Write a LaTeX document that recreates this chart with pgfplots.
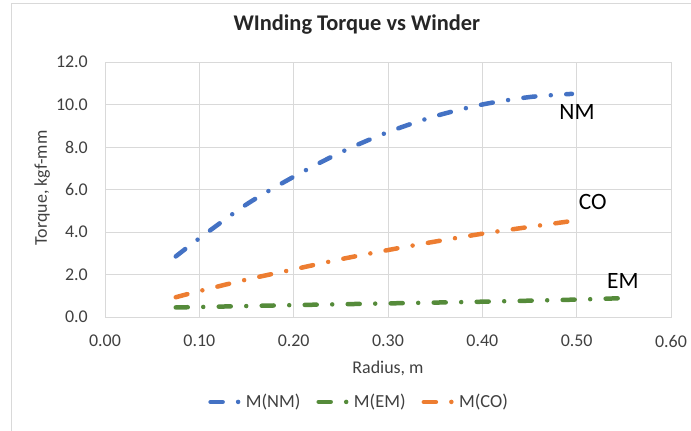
\documentclass[border=0pt]{standalone}
\usepackage{pgfplots}
\pgfplotsset{compat=1.18}
\usepackage{fontspec}
\setmainfont{Carlito}
\definecolor{cNM}{HTML}{4472C4}
\definecolor{cEM}{HTML}{558B3A}
\definecolor{cCO}{HTML}{ED7D31}
\definecolor{gridc}{HTML}{D9D9D9}
\definecolor{txt}{HTML}{404040}
\tikzset{ddot/.style={line width=4.5bp, line cap=round, dash pattern=on 12bp off 15.5bp on 0bp off 15.5bp}}
\begin{document}
\begin{tikzpicture}
\useasboundingbox (0,0) rectangle (691bp,431bp);
\draw[gridc, line width=1bp] (11bp,0) -- (11bp,427bp) -- (691bp,427bp);
\begin{axis}[
  at={(105bp,114bp)}, anchor=south west,
  scale only axis, width=566bp, height=255bp,
  xmin=0, xmax=0.6, ymin=0, ymax=12,
  xtick={0,0.1,0.2,0.3,0.4,0.5,0.6},
  ytick={0,2,4,6,8,10,12},
  grid=major, grid style={gridc, line width=0.75bp},
  axis line style={gridc, line width=0.75bp},
  major tick length=0pt, tick style={draw=none},
  /pgf/number format/assume math mode=true,
  xticklabel style={/pgf/number format/fixed, /pgf/number format/fixed zerofill, /pgf/number format/precision=2, font=\fontsize{18}{21}\selectfont, text=txt, inner sep=0pt, yshift=-18bp},
  yticklabel style={/pgf/number format/fixed, /pgf/number format/fixed zerofill, /pgf/number format/precision=1, font=\fontsize{18}{21}\selectfont, text=txt, inner sep=0pt, xshift=-17bp},
  xlabel={Radius, m}, ylabel={Torque, kgf-mm},
  xlabel style={at={(axis description cs:0.5,-0.2)}, anchor=center, font=\fontsize{18}{21}\selectfont, text=txt},
  ylabel style={at={(axis description cs:-0.111,0.506)}, anchor=center, rotate=0, font=\fontsize{18}{21}\selectfont, text=txt},
  title={\textbf{WInding Torque vs Winder}},
  title style={at={(axis description cs:0.445,1.125)}, anchor=center, font=\fontsize{22.5}{26}\selectfont, text=black!85},
  legend style={at={(axis description cs:0.449,-0.333)}, anchor=center, draw=none, legend columns=3, font=\fontsize{18.5}{21}\selectfont, text=txt, /tikz/every even column/.append style={column sep=14bp}},
  legend image code/.code={\draw[#1] (0bp,0bp) -- (31bp,0bp);},
]
\addplot[cNM, ddot, smooth] coordinates {
(0.075,2.85) (0.1,3.7) (0.15,5.3) (0.2,6.6) (0.25,7.75) (0.3,8.7) (0.35,9.45) (0.4,10.0) (0.45,10.35) (0.495,10.5)};
\addlegendentry{M(NM)}
\addplot[cEM, ddot, smooth] coordinates {
(0.075,0.45) (0.1,0.47) (0.2,0.56) (0.3,0.64) (0.4,0.72) (0.5,0.82) (0.55,0.89)};
\addlegendentry{M(EM)}
\addplot[cCO, ddot, smooth] coordinates {
(0.075,0.93) (0.1,1.22) (0.15,1.76) (0.2,2.24) (0.25,2.72) (0.3,3.15) (0.35,3.55) (0.4,3.92) (0.45,4.24) (0.497,4.53)};
\addlegendentry{M(CO)}
\node[font=\fontsize{23.5}{27}\selectfont] at (axis cs:0.5004,9.65) {NM};
\node[font=\fontsize{23.5}{27}\selectfont] at (axis cs:0.517,5.41) {CO};
\node[font=\fontsize{23.5}{27}\selectfont] at (axis cs:0.549,1.69) {EM};
\end{axis}
\end{tikzpicture}
\end{document}
